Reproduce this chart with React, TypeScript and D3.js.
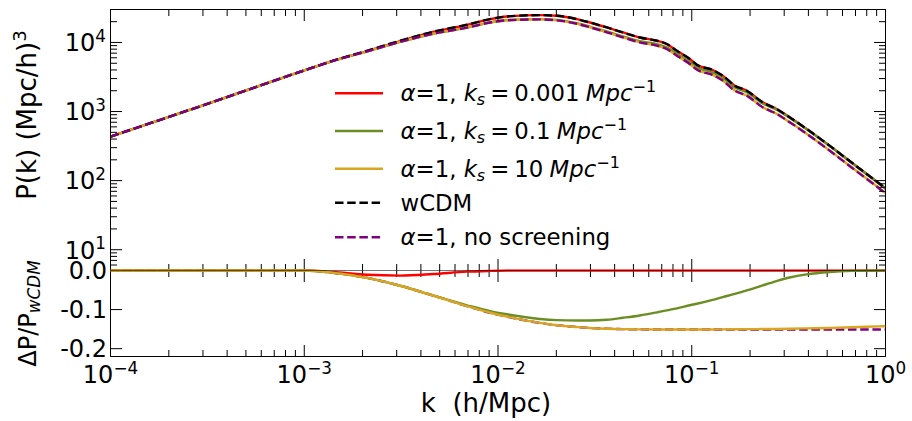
import React from 'react';
import * as d3 from 'd3';

const W = 912;
const H = 421;
const FONT = '"DejaVu Sans", "Liberation Sans", sans-serif';

// wavenumber grid k [h/Mpc]
const kGrid = [
  1e-4, 3.16e-4, 1e-3, 1.409e-3, 2.113e-3, 3.126e-3, 4.624e-3, 6.918e-3, 9.1e-3, 1.112e-2,
  1.644e-2, 2.014e-2, 2.553e-2, 2.979e-2, 3.648e-2, 4.406e-2, 5.395e-2, 6.607e-2, 7.43e-2, 8.375e-2,
  9.772e-2, 0.1062, 0.1282, 0.1445, 0.1667, 0.1923, 0.2323, 0.2742, 0.3199, 0.3917,
  0.514, 0.6761, 0.9311, 1.0,
];

// wCDM matter power spectrum P(k) [(Mpc/h)^3]
const pWcdm = [
  434, 1291, 3936, 5445, 7586, 10593, 14289, 18030, 21777, 23768,
  24889, 24322, 21777, 19454, 16482, 13964, 11803, 10593, 9484, 7586,
  5754, 4764, 3990, 3304, 2366, 2004, 1358, 1091, 826, 561,
  321, 178, 90, 77,
];

// relative deviation ΔP/P_wCDM of each model on the same k grid
const dKs0001 = [
  0, 0, 0, -0.004, -0.011, -0.013, -0.009, -0.003, -0.001, 0,
  0, 0, 0, 0, 0, 0, 0, 0, 0, 0,
  0, 0, 0, 0, 0, 0, 0, 0, 0, 0,
  0, 0, 0, 0,
];
const dKs01 = [
  0, 0, 0, -0.006, -0.019, -0.039, -0.064, -0.089, -0.104, -0.112,
  -0.124, -0.127, -0.128, -0.128, -0.126, -0.121, -0.115, -0.107, -0.102, -0.097,
  -0.089, -0.085, -0.075, -0.068, -0.06, -0.051, -0.038, -0.027, -0.018, -0.01,
  -0.004, -0.001, 0, 0,
];
const dKs10 = [
  0, 0, 0, -0.006, -0.019, -0.039, -0.064, -0.091, -0.108, -0.118,
  -0.134, -0.14, -0.1445, -0.147, -0.149, -0.15, -0.1505, -0.151, -0.151, -0.151,
  -0.151, -0.151, -0.1508, -0.1505, -0.1503, -0.15, -0.1497, -0.1495, -0.149, -0.148,
  -0.147, -0.145, -0.143, -0.1425,
];
const dNoScreening = [
  0, 0, 0, -0.006, -0.019, -0.039, -0.064, -0.091, -0.108, -0.118,
  -0.134, -0.14, -0.1445, -0.147, -0.149, -0.15, -0.1505, -0.151, -0.151, -0.151,
  -0.151, -0.151, -0.151, -0.151, -0.151, -0.151, -0.151, -0.151, -0.151, -0.151,
  -0.151, -0.151, -0.151, -0.151,
];

const ksValues = ['0.001', '0.1', '10'];
const seriesColors = ['#ff0000', '#6b8e23', '#daa520', '#000000', '#800080'];
const xMajorExps = [-4, -3, -2, -1, 0];
const yTopMajorExps = [1, 2, 3, 4];
const yBotTicks = [0, -0.1, -0.2];

const L = 110.5;
const R = 885.5;
const TOP = 9.5;
const MID = 270.5;
const BOT = 356.5;
const MAJ = 11.5;
const MIN = 6.5;
const LW = 2.4;
const DASH = '8.5,3.7';

const isPow10 = (v: number) => Math.abs(Math.log10(v) - Math.round(Math.log10(v))) < 1e-9;
const expLabel = (e: number) => (e < 0 ? '\u2212' + Math.abs(e) : String(e));

export default function App() {
  const x = d3.scaleLog().domain([1e-4, 1]).range([L, R]);
  const yTop = d3.scaleLog().domain([5, 3e4]).range([MID, TOP]);
  const yBot = d3.scaleLinear().domain([-0.22, 0]).range([BOT, MID]);

  const ratios = [dKs0001, dKs01, dKs10, kGrid.map(() => 0), dNoScreening];
  const powers = ratios.map((r) => pWcdm.map((p, i) => p * (1 + r[i])));

  const lineTop = d3
    .line<number>()
    .x((_, i) => x(kGrid[i]))
    .y((d) => yTop(d))
    .curve(d3.curveMonotoneX);
  const lineBot = d3
    .line<number>()
    .x((_, i) => x(kGrid[i]))
    .y((d) => yBot(d))
    .curve(d3.curveMonotoneX);

  const xTicks = x.ticks();
  const yTopTicks = yTop.ticks();

  const tick = (x1: number, y1: number, x2: number, y2: number, key: string) => (
    <line key={key} x1={x1} y1={y1} x2={x2} y2={y2} stroke="#000" strokeWidth={1} />
  );

  const xTickMarks: React.ReactNode[] = [];
  xTicks.forEach((v, i) => {
    const px = x(v);
    const len = isPow10(v) ? MAJ : MIN;
    xTickMarks.push(tick(px, TOP, px, TOP + len, `tt${i}`));
    xTickMarks.push(tick(px, MID, px, MID - len, `tb${i}`));
    xTickMarks.push(tick(px, MID, px, MID + len, `bt${i}`));
    xTickMarks.push(tick(px, BOT, px, BOT - len, `bb${i}`));
  });
  const yTickMarks: React.ReactNode[] = [];
  yTopTicks.forEach((v, i) => {
    const py = yTop(v);
    const len = isPow10(v) ? MAJ : MIN;
    yTickMarks.push(tick(L, py, L + len, py, `yl${i}`));
    yTickMarks.push(tick(R, py, R - len, py, `yr${i}`));
  });
  yBotTicks.forEach((v, i) => {
    const py = yBot(v);
    yTickMarks.push(tick(L, py, L + MAJ, py, `bl${i}`));
    yTickMarks.push(tick(R, py, R - MAJ, py, `br${i}`));
  });

  const legendRows = [93.3, 131, 168.7, 202.7, 237.3];
  const legendX0 = 335;
  const legendX1 = 383;
  const legendTextX = 400.5;
  const legendFs = 22.8;

  const ksLabel = (ks: string) => [
    <tspan key="a" fontStyle="italic">α</tspan>,
    <tspan key="b">=1, </tspan>,
    <tspan key="c" fontStyle="italic">k</tspan>,
    <tspan key="d" fontStyle="italic" fontSize={legendFs * 0.7} dy={4}>s</tspan>,
    <tspan key="e" dy={-4} dx={5.2}>=</tspan>,
    <tspan key="f" dx={4.8}>{ks}</tspan>,
    <tspan key="g" fontStyle="italic" dx={6.3}>Mpc</tspan>,
    <tspan key="h" fontSize={legendFs * 0.7} dy={-9}>−1</tspan>,
  ];
  const legendLabels: React.ReactNode[] = [
    ...ksValues.map((ks) => ksLabel(ks)),
    'wCDM',
    [
      <tspan key="a" fontStyle="italic">α</tspan>,
      <tspan key="b">=1, no screening</tspan>,
    ],
  ];

  // drawing order in the ratio panel: no-screening first, then screened models
  const botOrder = [4, 0, 1, 2];

  return (
    <svg
      width={W}
      height={H}
      viewBox={`0 0 ${W} ${H}`}
      style={{ position: 'absolute', left: 0, top: 0, background: '#fff' }}
      fontFamily={FONT}
    >
      <defs>
        <clipPath id="clipTop">
          <rect x={L} y={TOP} width={R - L} height={MID - TOP} />
        </clipPath>
        <clipPath id="clipBot">
          <rect x={L} y={MID - 1.2} width={R - L} height={BOT - MID + 1.2} />
        </clipPath>
      </defs>
      <rect x={0} y={0} width={W} height={H} fill="#fff" />

      {/* power spectra */}
      <g clipPath="url(#clipTop)" fill="none" strokeWidth={LW}>
        {powers.map((p, s) => (
          <path
            key={s}
            d={lineTop(p) || ''}
            stroke={seriesColors[s]}
            strokeDasharray={s >= 3 ? DASH : undefined}
          />
        ))}
      </g>

      {/* ticks */}
      {xTickMarks}
      {yTickMarks}

      {/* outer frame */}
      <line x1={L} y1={TOP} x2={R} y2={TOP} stroke="#000" strokeWidth={1} />
      <line x1={L} y1={BOT} x2={R} y2={BOT} stroke="#000" strokeWidth={1} />
      <line x1={L} y1={TOP} x2={L} y2={BOT} stroke="#000" strokeWidth={1} />
      <line x1={R} y1={TOP} x2={R} y2={BOT} stroke="#000" strokeWidth={1} />

      {/* relative deviations */}
      <g clipPath="url(#clipBot)" fill="none" strokeWidth={LW}>
        {botOrder.map((s) => (
          <path
            key={s}
            d={lineBot(ratios[s]) || ''}
            stroke={seriesColors[s]}
            strokeDasharray={s >= 3 ? DASH : undefined}
          />
        ))}
      </g>

      {/* shared boundary between the two panels */}
      <line x1={L} y1={MID} x2={R} y2={MID} stroke="#000" strokeWidth={1} strokeOpacity={0.55} />

      {/* x tick labels */}
      {xMajorExps.map((e) => (
        <text key={e} x={x(Math.pow(10, e))} y={383} fontSize={24} textAnchor="middle" fill="#000">
          <tspan>10</tspan>
          <tspan fontSize={16.8} dy={-9.5}>{expLabel(e)}</tspan>
        </text>
      ))}

      {/* top panel y tick labels */}
      {yTopMajorExps.map((e) => (
        <text key={e} x={106} y={yTop(Math.pow(10, e)) + 8.8} fontSize={24} textAnchor="end" fill="#000">
          <tspan>10</tspan>
          <tspan fontSize={16.8} dy={-9.5}>{expLabel(e)}</tspan>
        </text>
      ))}

      {/* bottom panel y tick labels */}
      {yBotTicks.map((v) => (
        <text key={v} x={107} y={yBot(v) + 8.8} fontSize={24} textAnchor="end" fill="#000">
          {v === 0 ? '0.0' : '-' + Math.abs(v).toFixed(1)}
        </text>
      ))}

      {/* axis labels */}
      <text x={486} y={412} fontSize={26} textAnchor="middle" fill="#000" xmlSpace="preserve">
        k  (h/Mpc)
      </text>
      <text transform={`translate(36, 115) rotate(-90)`} fontSize={26} textAnchor="middle" fill="#000">
        <tspan>P(k) (Mpc/h)</tspan>
        <tspan fontSize={18.2} dy={-10.5}>3</tspan>
      </text>
      <text transform={`translate(36, ${(MID + BOT) / 2}) rotate(-90)`} fontSize={24} textAnchor="middle" fill="#000">
        <tspan>ΔP/P</tspan>
        <tspan fontSize={16.8} fontStyle="italic" dy={4}>wCDM</tspan>
      </text>

      {/* legend */}
      {legendRows.map((ry, i) => (
        <g key={i}>
          <line
            x1={legendX0}
            x2={legendX1}
            y1={ry}
            y2={ry}
            stroke={seriesColors[i]}
            strokeWidth={LW}
            strokeDasharray={i >= 3 ? DASH : undefined}
          />
          <text x={legendTextX} y={ry + 8} fontSize={legendFs} fill="#000">
            {legendLabels[i]}
          </text>
        </g>
      ))}
    </svg>
  );
}
